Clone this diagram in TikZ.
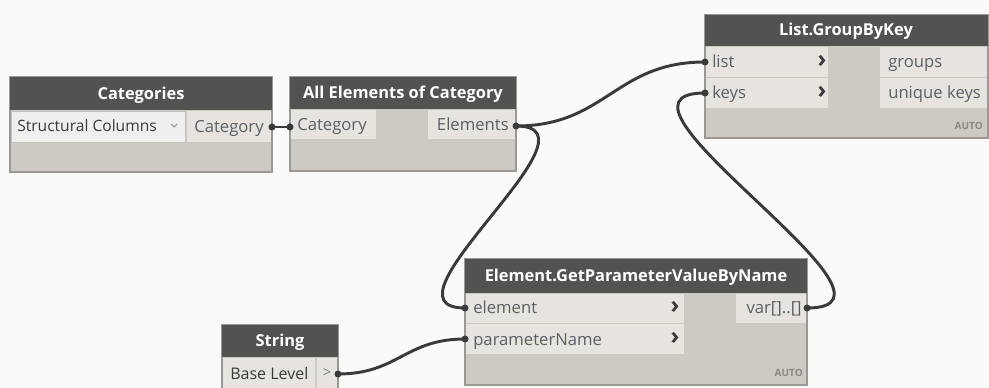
\documentclass[tikz,border=0pt]{standalone}
\usepackage{fontspec}
\setmainfont{Open Sans}
\usetikzlibrary{fit}
\definecolor{bgc}{HTML}{FAFAFA}
\definecolor{hdrc}{HTML}{545250}
\definecolor{bodyc}{HTML}{CDC9C3}
\definecolor{portc}{HTML}{E7E4E0}
\definecolor{edgec}{HTML}{9C9994}
\definecolor{txtc}{HTML}{5A5F66}
\definecolor{darktxt}{HTML}{3A3A3A}
\definecolor{wirec}{HTML}{3A3A3A}
\definecolor{autoc}{HTML}{8C8883}
\definecolor{dropc}{HTML}{EFEFEF}
\begin{document}
\begin{tikzpicture}[x=0.75pt,y=-0.75pt,
  nodebody/.style={inner sep=0pt, outer sep=0pt, fill=bodyc, draw=edgec, line width=0.9pt},
  hdr/.style={inner sep=0pt, outer sep=0pt, fill=hdrc},
  hdrtxt/.style={anchor=base, inner sep=0pt, text=white, font=\bfseries\fontsize{12.3}{14}\selectfont},
  portbox/.style={inner sep=0pt, outer sep=0pt, fill=portc},
  lbl/.style={anchor=base west, inner sep=0pt, text=txtc, font=\fontsize{12.5}{14}\selectfont},
  rlbl/.style={anchor=base east, inner sep=0pt, text=txtc, font=\fontsize{12.5}{14}\selectfont},
  chev/.style={inner sep=0pt, text=darktxt, font=\bfseries\fontsize{18}{18}\selectfont},
  autolbl/.style={anchor=base east, inner sep=0pt, text=autoc, font=\bfseries\fontsize{7.5}{8}\selectfont},
  wire/.style={draw=wirec, line width=2.2pt},
  portdot/.style={fill=wirec, draw=none},
]
\useasboundingbox[fill=bgc] (0,0) rectangle (989,388);

% ---------- Categories ----------
\node[nodebody, fit={(10,77) (272,172)}] (cat) {};
\node[hdr, fit={(10,77) (272,110)}] (cathdr) {};
\node[hdrtxt] (cattitle) at (141,100) {Categories};
\node[fit={(11,111) (185,142)}, inner sep=0pt, fill=dropc, draw=edgec!60, line width=0.6pt] (catdrop) {};
\node[lbl, text=darktxt, font=\fontsize{11.7}{14}\selectfont] (catval) at (17,132) {Structural Columns};
\draw[edgec, line width=0.8pt] (171,124) -- (174,127) -- (177,124);
\node[portbox, fit={(187,111) (271,142)}] (catoutbox) {};
\node[lbl] (catoutlbl) at (194,133) {Category};
\coordinate (catOut) at (272,127);

% ---------- All Elements of Category ----------
\node[nodebody, fit={(290,77) (516,171)}] (ae) {};
\node[hdr, fit={(290,77) (516,109)}] (aehdr) {};
\node[hdrtxt] (aetitle) at (403,99) {All Elements of Category};
\node[portbox, fit={(291,110) (376,139)}] (aeinbox) {};
\node[lbl] (aeinlbl) at (297,131) {Category};
\node[portbox, fit={(428,110) (515,139)}] (aeoutbox) {};
\node[rlbl] (aeoutlbl) at (509,131) {Elements};
\coordinate (aeIn) at (290,127);
\coordinate (aeOut) at (516,126);

% ---------- List.GroupByKey ----------
\node[nodebody, fit={(705,15) (988,138)}] (lgk) {};
\node[hdr, fit={(705,15) (988,46)}] (lgkhdr) {};
\node[hdrtxt] (lgktitle) at (846,36) {List.GroupByKey};
\node[portbox, fit={(706,47) (828,77)}] (lgkin1) {};
\node[lbl] (lgklist) at (712,68) {list};
\node[chev] (lgkc1) at (822,61) {›};
\node[portbox, fit={(706,78) (828,108)}] (lgkin2) {};
\node[lbl] (lgkkeys) at (712,99) {keys};
\node[chev] (lgkc2) at (822,92) {›};
\node[portbox, fit={(880,47) (987,77)}] (lgkout1) {};
\node[lbl] (lgkgroups) at (888,68) {groups};
\node[portbox, fit={(880,78) (987,108)}] (lgkout2) {};
\node[lbl] (lgkuk) at (888,99) {unique keys};
\node[autolbl] (lgkauto) at (983,130) {AUTO};
\coordinate (lgkList) at (705,62);
\coordinate (lgkKeys) at (705,93);

% ---------- Element.GetParameterValueByName ----------
\node[nodebody, fit={(465,259) (807,385)}] (egp) {};
\node[hdr, fit={(465,259) (807,293)}] (egphdr) {};
\node[hdrtxt] (egptitle) at (636,282) {Element.GetParameterValueByName};
\node[portbox, fit={(466,294) (684,323)}] (egpin1) {};
\node[lbl] (egpel) at (473,314) {element};
\node[chev] (egpc1) at (675,307) {›};
\node[portbox, fit={(466,324) (684,354)}] (egpin2) {};
\node[lbl] (egppn) at (473,345) {parameterName};
\node[chev] (egpc2) at (675,338) {›};
\node[portbox, fit={(736,294) (806,323)}] (egpoutbox) {};
\node[rlbl] (egpvar) at (802,314) {var[]..[]};
\node[autolbl] (egpauto) at (803,376) {AUTO};
\coordinate (egpEl) at (465,308);
\coordinate (egpPn) at (465,339);
\coordinate (egpOut) at (807,308);

% ---------- String ----------
\node[nodebody, fit={(222,325) (338,400)}] (str) {};
\node[hdr, fit={(222,325) (338,357)}] (strhdr) {};
\node[hdrtxt] (strtitle) at (280,347) {String};
\node[portbox, fit={(223,358) (315,399)}] (strval) {};
\node[lbl, text=darktxt, font=\fontsize{12}{14}\selectfont] (strtxt) at (230,379) {Base Level};
\node[portbox, fit={(317,358) (337,399)}] (stroutbox) {};
\node[inner sep=0pt, text=txtc!80, font=\fontsize{11}{12}\selectfont] (strgt) at (327,373) {>};
\coordinate (strOut) at (338,374);

% ---------- connectors ----------
\draw[wire] (catOut) -- (aeIn);
\draw[wire] (aeOut) .. controls +(90,0) and +(-90,0) .. (lgkList);
\draw[wire] (aeOut) .. controls +(95,0) and +(-95,0) .. (egpEl);
\draw[wire] (egpOut) .. controls +(125,0) and +(-125,0) .. (lgkKeys);
\draw[wire] (strOut) .. controls +(60,0) and +(-60,0) .. (egpPn);

% port dots
\foreach \p in {catOut,aeIn,aeOut,lgkList,lgkKeys,egpEl,egpPn,egpOut,strOut}
  \fill[portdot] (\p) circle[radius=3.5];
\end{tikzpicture}
\end{document}
